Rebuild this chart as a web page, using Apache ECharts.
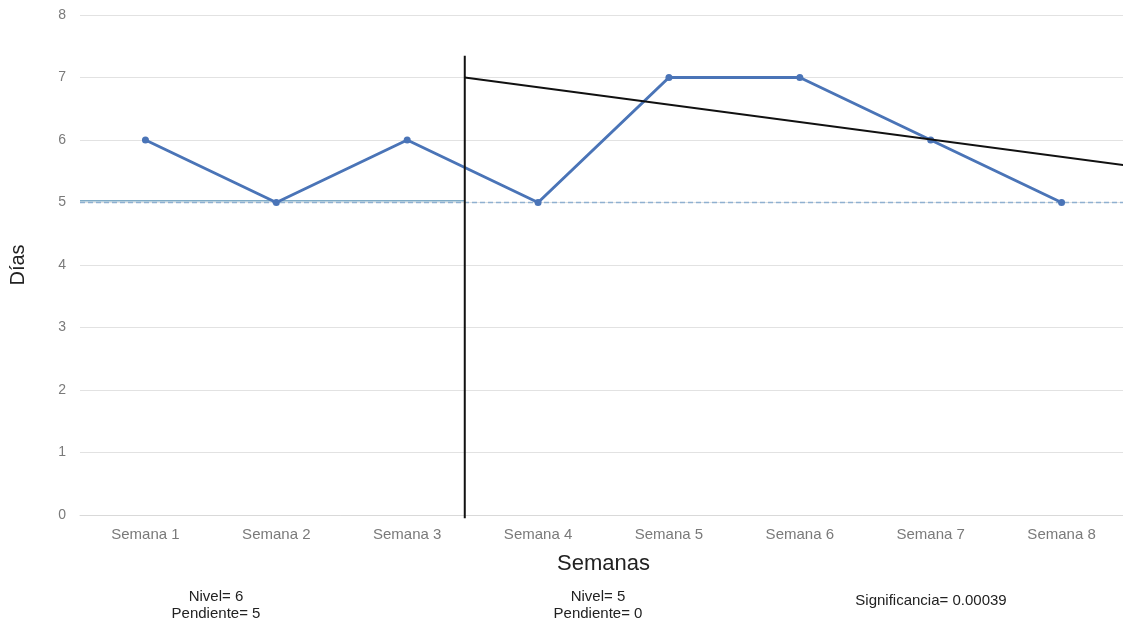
<!DOCTYPE html>
<html>
<head>
<meta charset="utf-8">
<script src="https://cdn.jsdelivr.net/npm/echarts@6/dist/echarts.min.js"></script>
<style>
  html, body { margin: 0; padding: 0; background: #fff; }
  #chart { width: 1123px; height: 624px; }
</style>
</head>
<body>
<div id="chart"></div>
<script>
// Weekly days series
const semanas = ['Semana 1', 'Semana 2', 'Semana 3', 'Semana 4', 'Semana 5', 'Semana 6', 'Semana 7', 'Semana 8'];
const dias = [6, 5, 6, 5, 7, 7, 6, 5];
const yTicks = [0, 1, 2, 3, 4, 5, 6, 7, 8];

// Reference lines on a continuous 0..8 scale (category i sits at i - 0.5)
const faseCorte = 2.94;
const nivelBase = [[0, 5.03], [faseCorte, 5.03]];
const mediaGlobal = [[0, 5], [8, 5]];
const tendencia = [[faseCorte, 7], [8, 5.59]];
const corte = [[faseCorte, -0.05], [faseCorte, 7.35]];

// Phase notes under the axis
const notas = [
  { x: 216, lines: ['Nivel= 6', 'Pendiente= 5'] },
  { x: 598, lines: ['Nivel= 5', 'Pendiente= 0'] },
  { x: 931, lines: ['Significancia= 0.00039'] }
];

const font = 'Liberation Sans, Arial, sans-serif';
const chart = echarts.init(document.getElementById('chart'), null, { renderer: 'canvas' });

chart.setOption({
  animation: false,
  textStyle: { fontFamily: font },
  grid: { left: 80, top: 15, width: 1047, height: 500, outerBoundsMode: 'none', containLabel: false },
  xAxis: [
    {
      type: 'category',
      data: semanas,
      boundaryGap: true,
      axisLine: { show: true, lineStyle: { color: '#d9d9d9' } },
      axisTick: { show: false },
      axisLabel: { color: '#7a7a7a', fontSize: 15, margin: 12 },
      name: 'Semanas',
      nameLocation: 'middle',
      nameGap: 38,
      nameTextStyle: { color: '#222', fontSize: 22 }
    },
    {
      type: 'value',
      min: 0, max: 8,
      show: false
    }
  ],
  yAxis: {
    type: 'value',
    min: 0, max: 8, interval: 1,
    axisLine: { show: false },
    axisTick: { show: false },
    axisLabel: {
      color: '#7a7a7a', fontSize: 14, margin: 14,
      formatter: v => yTicks.includes(v) ? String(v) : ''
    },
    splitLine: { lineStyle: { color: '#e2e2e2', width: 1 } },
    name: 'Días',
    nameLocation: 'middle',
    nameGap: 52,
    nameRotate: 90,
    nameTextStyle: { color: '#222', fontSize: 20 }
  },
  series: [
    {
      type: 'line',
      xAxisIndex: 1,
      data: mediaGlobal,
      symbol: 'none',
      lineStyle: { color: '#8fb0d0', width: 1.3, type: [5, 3] },
      z: 2
    },
    {
      type: 'line',
      xAxisIndex: 1,
      data: nivelBase,
      symbol: 'none',
      lineStyle: { color: '#7fabc6', width: 1.5 },
      z: 2
    },
    {
      type: 'line',
      data: dias,
      symbol: 'circle',
      symbolSize: 7,
      itemStyle: { color: '#4a74b7' },
      lineStyle: { color: '#4a74b7', width: 3 },
      z: 4
    },
    {
      type: 'line',
      xAxisIndex: 1,
      data: tendencia,
      symbol: 'none',
      lineStyle: { color: '#111', width: 2 },
      z: 5
    },
    {
      type: 'line',
      xAxisIndex: 1,
      data: corte,
      symbol: 'none',
      clip: false,
      lineStyle: { color: '#111', width: 2 },
      z: 5
    }
  ],
  graphic: notas.map(n => ({
    type: 'text',
    x: n.x,
    y: n.lines.length > 1 ? 588 : 592,
    style: {
      text: n.lines.join('\n'),
      fill: '#222',
      font: '15px ' + font,
      lineHeight: 17,
      align: 'center',
      textAlign: 'center'
    }
  }))
});
</script>
</body>
</html>
